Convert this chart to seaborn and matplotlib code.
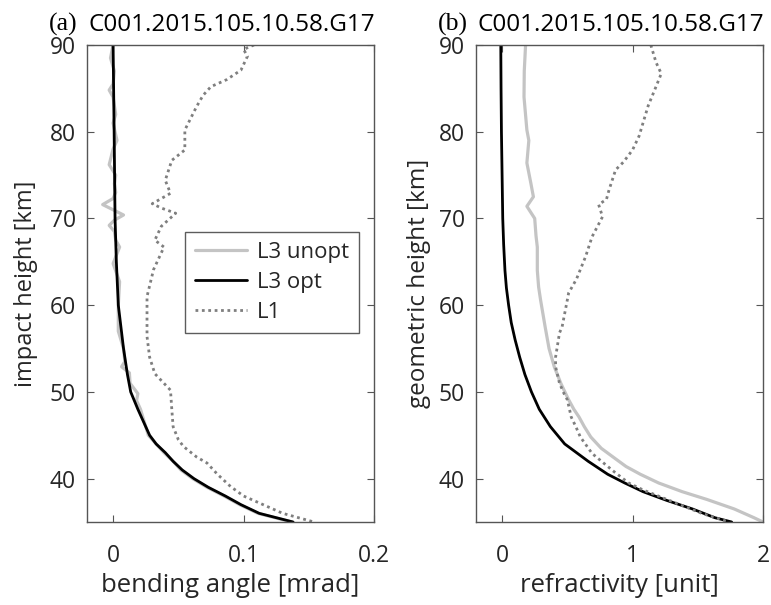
import matplotlib
matplotlib.use("Agg")
import matplotlib.pyplot as plt
import seaborn as sns

# ---------------- data ----------------
# Panel (a): bending angle [mrad] vs impact height [km]
a_opt_h = [90, 80, 70, 65, 60, 55, 52, 50, 48, 47, 46, 45, 44, 43, 42, 41, 40, 39, 38, 37, 36, 35]
a_opt_x = [0.0, 0.0008, 0.0015, 0.0025, 0.004, 0.008, 0.011, 0.0135, 0.019, 0.022, 0.025, 0.028,
           0.033, 0.040, 0.046, 0.053, 0.062, 0.073, 0.086, 0.098, 0.112, 0.138]

a_unopt_h = [90, 88.5, 87, 85.5, 84.8, 84, 82, 81, 79, 78, 76.2, 75, 74, 73, 72.3, 71.6, 71.0,
             70.4, 69.8, 69.2, 68.5, 67.5, 66.7, 64.8, 62.7, 60, 57, 55, 53.5, 52.9, 52.2, 51,
             49.8, 49, 48, 46, 45, 44, 43, 42, 41, 40, 39, 38, 37, 36, 35]
a_unopt_x = [0.0, -0.002, 0.001, 0.0, -0.003, 0.0, 0.002, 0.0, 0.003, 0.0, -0.003, 0.002,
             0.001, 0.002, 0.0, -0.008, 0.0, 0.008, 0.001, -0.003, 0.001, 0.002, 0.005, 0.0,
             0.005, 0.004, 0.004, 0.008, 0.009, 0.0065, 0.0125, 0.013, 0.019, 0.018, 0.021,
             0.025, 0.027, 0.033, 0.039, 0.046, 0.052, 0.061, 0.072, 0.085, 0.097, 0.111, 0.137]

a_l1_h = [90, 89.5, 88.7, 87.1, 86, 85.2, 84.2, 82.9, 81.7, 80.2, 77.9, 76.7, 74.4, 72.9,
          71.7, 71.2, 70.6, 69.1, 67.5, 66.7, 64.1, 61, 56.4, 54, 52.1, 50.2, 48, 46, 44.5,
          43.7, 42.5, 41.8, 40.5, 39.1, 38, 36.8, 36, 35]
a_l1_x = [0.108, 0.100, 0.103, 0.098, 0.087, 0.075, 0.069, 0.064, 0.060, 0.055, 0.055, 0.045,
          0.040, 0.044, 0.030, 0.037, 0.048, 0.037, 0.032, 0.039, 0.031, 0.026, 0.026, 0.028,
          0.032, 0.044, 0.045, 0.046, 0.050, 0.054, 0.064, 0.072, 0.080, 0.090, 0.100, 0.118,
          0.130, 0.154]

# Panel (b): refractivity [unit] vs geometric height [km]
b_opt_h = [90, 85, 80, 75, 70, 67, 64, 62, 60, 58, 56, 54, 52, 50, 48, 46, 44, 42, 40.5, 39.5,
           38.5, 37.5, 36.5, 35.5, 35]
b_opt_x = [-0.01, -0.008, -0.005, 0.0, 0.005, 0.012, 0.022, 0.033, 0.05, 0.07, 0.1, 0.135,
           0.175, 0.225, 0.285, 0.37, 0.48, 0.66, 0.81, 0.94, 1.08, 1.26, 1.46, 1.63, 1.76]

b_unopt_h = [90, 87, 84, 80.2, 79, 76.4, 74.1, 72.5, 71.4, 70, 68, 66.7, 64, 62.1, 60.6, 57.5,
             55, 52.9, 51, 50.2, 49.1, 48, 47.1, 46, 44.8, 43.5, 42.5, 41.4, 40.5, 39.5, 38.5,
             37.6, 36.5, 35.5, 35]
b_unopt_x = [0.18, 0.17, 0.168, 0.19, 0.205, 0.19, 0.22, 0.24, 0.19, 0.25, 0.26, 0.27, 0.27,
             0.28, 0.295, 0.33, 0.36, 0.40, 0.45, 0.475, 0.51, 0.55, 0.59, 0.63, 0.68, 0.76,
             0.85, 0.95, 1.06, 1.2, 1.38, 1.57, 1.78, 1.93, 2.0]

b_l1_h = [90, 88, 86.7, 85.2, 83, 81, 79.5, 77.9, 76.5, 75.6, 73.3, 72.2, 71.6, 70.2, 67.9,
          65.6, 63, 61.4, 60.6, 57.5, 56.8, 54, 52.9, 51, 49.8, 49.1, 47.1, 46, 44.8, 42.9,
          40.9, 39.5, 38.7, 37.2, 36, 35]
b_l1_x = [1.14, 1.18, 1.22, 1.18, 1.12, 1.08, 1.05, 1.0, 0.93, 0.87, 0.82, 0.80, 0.74, 0.77,
          0.69, 0.64, 0.57, 0.51, 0.50, 0.46, 0.44, 0.41, 0.41, 0.44, 0.475, 0.50, 0.53, 0.565,
          0.60, 0.69, 0.85, 0.97, 1.08, 1.33, 1.53, 1.74]

series_labels = ["L3 unopt", "L3 opt", "L1"]
title_text = "C001.2015.105.10.58.G17"
panel_tags = ["(a)", "(b)"]

# ---------------- style ----------------
sns.set_theme(style="white")
plt.rcParams["font.family"] = ["Open Sans", "DejaVu Sans"]
TXT = "#262626"
plt.rcParams.update({
    "xtick.direction": "in", "ytick.direction": "in",
    "xtick.top": True, "ytick.right": True,
    "xtick.bottom": True, "ytick.left": True,
    "xtick.major.size": 5, "ytick.major.size": 5,
    "xtick.major.width": 0.8, "ytick.major.width": 0.8,
    "xtick.color": "#555555", "ytick.color": "#555555",
    "xtick.labelcolor": TXT, "ytick.labelcolor": TXT,
})

fig = plt.figure(figsize=(7.71, 6.05), dpi=100)
W, H = 771, 605
bot = 1 - 522 / H
top = 1 - 45 / H
ax1 = fig.add_axes([87 / W, bot, (374 - 87) / W, top - bot])
ax2 = fig.add_axes([476 / W, bot, (763 - 476) / W, top - bot])

c_unopt = "#c4c4c4"
c_opt = "#000000"
c_l1 = "#7f7f7f"


def draw(ax, hu, xu, ho, xo, hl, xl):
    sns.lineplot(x=xu, y=hu, ax=ax, orient="y", sort=False, estimator=None,
                 color=c_unopt, lw=2.3, label=series_labels[0])
    sns.lineplot(x=xo, y=ho, ax=ax, orient="y", sort=False, estimator=None,
                 color=c_opt, lw=2.0, label=series_labels[1])
    sns.lineplot(x=xl, y=hl, ax=ax, orient="y", sort=False, estimator=None,
                 color=c_l1, lw=2.0, ls=(0, (1, 1.3)), label=series_labels[2])


draw(ax1, a_unopt_h, a_unopt_x, a_opt_h, a_opt_x, a_l1_h, a_l1_x)
draw(ax2, b_unopt_h, b_unopt_x, b_opt_h, b_opt_x, b_l1_h, b_l1_x)

ax1.set_xlim(-0.02, 0.2)
ax1.set_xticks([0, 0.1, 0.2])
ax1.set_xticklabels(["0", "0.1", "0.2"])
ax2.set_xlim(-0.2, 2)
ax2.set_xticks([0, 1, 2])
for ax in (ax1, ax2):
    ax.set_ylim(35, 90)
    ax.set_yticks([40, 50, 60, 70, 80, 90])
    ax.tick_params(axis="x", labelsize=16.5, pad=16)
    ax.tick_params(axis="y", labelsize=16.5, pad=8)
    for s in ax.spines.values():
        s.set_color("#555555")
        s.set_linewidth(1.0)

ax1.set_xlabel("bending angle [mrad]", fontsize=18.5, color=TXT)
ax1.set_ylabel("impact height [km]", fontsize=17, color=TXT)
ax2.set_xlabel("refractivity [unit]", fontsize=18.5, color=TXT)
ax2.set_ylabel("geometric height [km]", fontsize=17.5, color=TXT)
ax1.xaxis.set_label_coords(0.5, -0.106)
ax2.xaxis.set_label_coords(0.5, -0.106)
ax1.yaxis.set_label_coords(-0.172, 0.5)
ax2.yaxis.set_label_coords(-0.158, 0.5)

for ax in (ax1, ax2):
    tag = panel_tags[0] if ax is ax1 else panel_tags[1]
    ax.text(0.004, 1.03, title_text, transform=ax.transAxes, fontsize=17.5,
            color="black", ha="left", va="baseline")
    ax.annotate(tag, xy=(0, 1.03), xycoords="axes fraction", xytext=(-38, 0),
                textcoords="offset pixels", fontsize=18.5,
                family=["Liberation Serif", "DejaVu Serif"],
                color="black", ha="left", va="baseline")

ax2.get_legend().remove()
leg = ax1.legend(loc="upper left", bbox_to_anchor=(0.341, 0.608), borderaxespad=0,
                 fontsize=16, frameon=True, fancybox=False, handlelength=2.35,
                 borderpad=0.45, labelspacing=0.4, handletextpad=0.45)
leg.get_frame().set_edgecolor("#333333")
leg.get_frame().set_linewidth(1.0)
for t in leg.get_texts():
    t.set_color(TXT)

fig.savefig("out.png", dpi=100)
